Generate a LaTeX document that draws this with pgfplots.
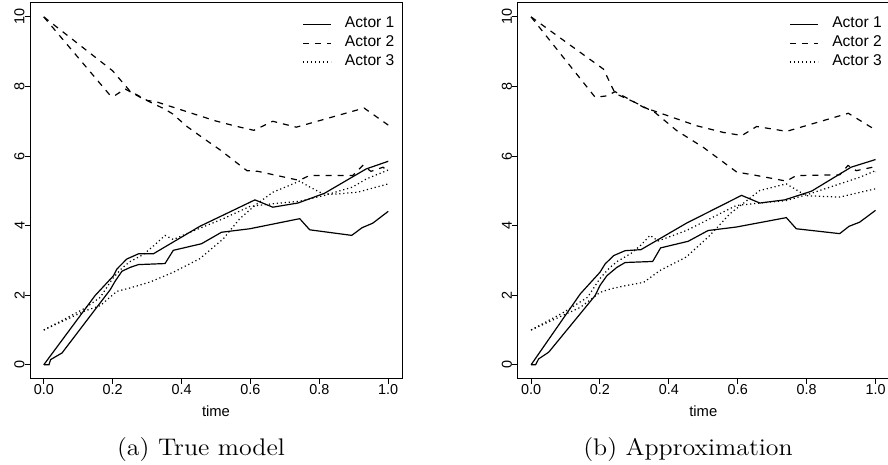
\documentclass[border=0pt]{standalone}
\usepackage{fontspec}
\newfontfamily\helv{Liberation Sans}
\usepackage{pgfplots}
\pgfplotsset{compat=1.18}

\pgfplotsset{
  rpanel/.style={
    scale only axis, width=186pt, height=187.85pt, anchor=south west,
    xmin=-0.04, xmax=1.04, ymin=-0.4, ymax=10.4,
    xtick={0,0.2,0.4,0.6,0.8,1}, xticklabels={0.0,0.2,0.4,0.6,0.8,1.0},
    ytick={0,2,4,6,8,10}, yticklabels={0,2,4,6,8,10},
    xtick pos=bottom, ytick pos=left,
    tick align=outside, major tick length=2.5pt,
    tick style={black, line width=0.5pt},
    axis line style={line width=0.5pt},
    ticklabel style={font=\helv\fontsize{7.2}{8}\selectfont},
    xticklabel style={anchor=north, inner sep=0pt},
    yticklabel style={rotate=90, anchor=south, inner sep=0pt},
    xlabel={time},
    xlabel style={font=\helv\fontsize{7.4}{8}\selectfont, at={(axis description cs:0.5,0)}, anchor=center, yshift=-16.2pt},
    legend style={draw=none, fill=none, at={(1,1)}, anchor=north east,
      inner sep=0pt, outer sep=0pt,
      xshift=-3.5pt, yshift=-6pt, font=\helv\fontsize{7.8}{8}\selectfont,
      column sep=6.5pt, row sep=0pt,
      nodes={inner sep=0.3pt, text height=6pt, text depth=2.8pt}},
    legend cell align=left,
    legend image code/.code={\draw[#1] (0pt,0pt) -- (14pt,0pt);},
    every axis plot/.append style={black, line width=0.6pt},
  },
  a1/.style={solid},
  a2/.style={dash pattern=on 3pt off 3pt},
  a3/.style={dash pattern=on 0.6pt off 1.4pt},
}

\begin{document}
\begin{tikzpicture}
\useasboundingbox (0,0) rectangle (444pt,232.5pt);

% (a) True model
\begin{axis}[rpanel, at={(15pt,43.15pt)}]
\addplot[a1] coordinates {(0,0) (0.149,1.99) (0.2025,2.56) (0.212,2.75) (0.241,3.04) (0.275,3.19) (0.318,3.19) (0.453,3.98) (0.613,4.74) (0.665,4.53) (0.738,4.65) (0.815,4.93) (0.936,5.63) (1.0,5.85)};
\addlegendentry{Actor 1}
\addplot[a2] coordinates {(0,10) (0.2,8.45) (0.25,7.87) (0.3,7.6) (0.33,7.55) (0.417,7.27) (0.499,7.01) (0.557,6.86) (0.61,6.74) (0.665,7.0) (0.733,6.83) (0.93,7.38) (1.0,6.89)};
\addlegendentry{Actor 2}
\addplot[a3] coordinates {(0,1.0) (0.058,1.30) (0.12,1.63) (0.164,1.94) (0.2,2.48) (0.227,2.78) (0.251,2.97) (0.289,3.17) (0.32,3.43) (0.352,3.72) (0.376,3.60) (0.415,3.77) (0.521,4.2) (0.598,4.55) (0.665,4.63) (0.743,4.70) (0.815,4.87) (0.897,5.11) (0.936,5.34) (1.0,5.6)};
\addlegendentry{Actor 3}
\addplot[a1, forget plot] coordinates {(0,0) (0.015,0) (0.02,0.15) (0.053,0.34) (0.193,2.16) (0.207,2.40) (0.227,2.69) (0.251,2.80) (0.26,2.83) (0.275,2.88) (0.352,2.91) (0.376,3.29) (0.458,3.48) (0.516,3.81) (0.598,3.91) (0.743,4.20) (0.772,3.88) (0.894,3.72) (0.924,3.94) (0.955,4.07) (1.0,4.41)};
\addplot[a2, forget plot] coordinates {(0,10) (0.193,7.74) (0.205,7.73) (0.236,7.93) (0.28,7.69) (0.349,7.36) (0.373,7.22) (0.417,6.84) (0.465,6.5) (0.513,6.17) (0.561,5.80) (0.59,5.58) (0.622,5.56) (0.742,5.30) (0.771,5.44) (0.897,5.44) (0.926,5.73) (0.95,5.56) (0.985,5.68) (1.0,5.55)};
\addplot[a3, forget plot] coordinates {(0,1.0) (0.12,1.55) (0.164,1.70) (0.212,2.11) (0.251,2.21) (0.309,2.38) (0.376,2.66) (0.453,3.05) (0.521,3.62) (0.569,4.2) (0.613,4.58) (0.665,4.96) (0.743,5.28) (0.772,5.11) (0.81,4.92) (0.839,4.90) (0.911,4.96) (1.0,5.20)};
\end{axis}

% (b) Approximation
\begin{axis}[rpanel, at={(258.65pt,43.15pt)}]
\addplot[a1] coordinates {(0,0) (0.143,2.04) (0.2,2.66) (0.215,2.90) (0.24,3.14) (0.273,3.28) (0.319,3.31) (0.451,4.07) (0.611,4.87) (0.664,4.65) (0.736,4.74) (0.814,4.99) (0.929,5.68) (1.0,5.90)};
\addlegendentry{Actor 1}
\addplot[a2] coordinates {(0,10) (0.21,8.50) (0.244,7.80) (0.3,7.55) (0.327,7.40) (0.481,6.87) (0.558,6.68) (0.612,6.59) (0.655,6.85) (0.742,6.71) (0.921,7.23) (1.0,6.75)};
\addlegendentry{Actor 2}
\addplot[a3] coordinates {(0,1.0) (0.095,1.51) (0.164,1.94) (0.2,2.48) (0.227,2.78) (0.25,2.97) (0.29,3.2) (0.32,3.45) (0.345,3.72) (0.369,3.56) (0.451,3.86) (0.596,4.58) (0.664,4.65) (0.741,4.72) (0.814,4.93) (0.896,5.20) (0.954,5.39) (1.0,5.58)};
\addlegendentry{Actor 3}
\addplot[a1, forget plot] coordinates {(0,0) (0.013,0) (0.022,0.17) (0.051,0.36) (0.186,1.99) (0.2,2.28) (0.22,2.56) (0.249,2.80) (0.273,2.94) (0.353,2.97) (0.376,3.36) (0.456,3.55) (0.514,3.86) (0.596,3.96) (0.741,4.23) (0.770,3.91) (0.896,3.77) (0.923,3.98) (0.954,4.10) (1.0,4.44)};
\addplot[a2, forget plot] coordinates {(0,10) (0.186,7.69) (0.22,7.73) (0.244,7.85) (0.3,7.55) (0.36,7.25) (0.423,6.73) (0.5,6.25) (0.597,5.54) (0.65,5.45) (0.741,5.28) (0.770,5.44) (0.896,5.46) (0.920,5.73) (0.944,5.58) (0.992,5.68) (1.0,5.54)};
\addplot[a3, forget plot] coordinates {(0,1.0) (0.143,1.65) (0.2,2.08) (0.23,2.18) (0.277,2.28) (0.327,2.37) (0.374,2.71) (0.451,3.10) (0.519,3.72) (0.577,4.34) (0.664,5.01) (0.741,5.20) (0.799,4.86) (0.896,4.82) (1.0,5.06)};
\end{axis}

\node[anchor=base, font=\fontsize{12}{14}\selectfont, xscale=1.08] at (100.5pt,4.5pt) {(a) True model};
\node[anchor=base, font=\fontsize{12}{14}\selectfont, xscale=1.08] at (344pt,4.5pt) {(b) Approximation};
\end{tikzpicture}
\end{document}
